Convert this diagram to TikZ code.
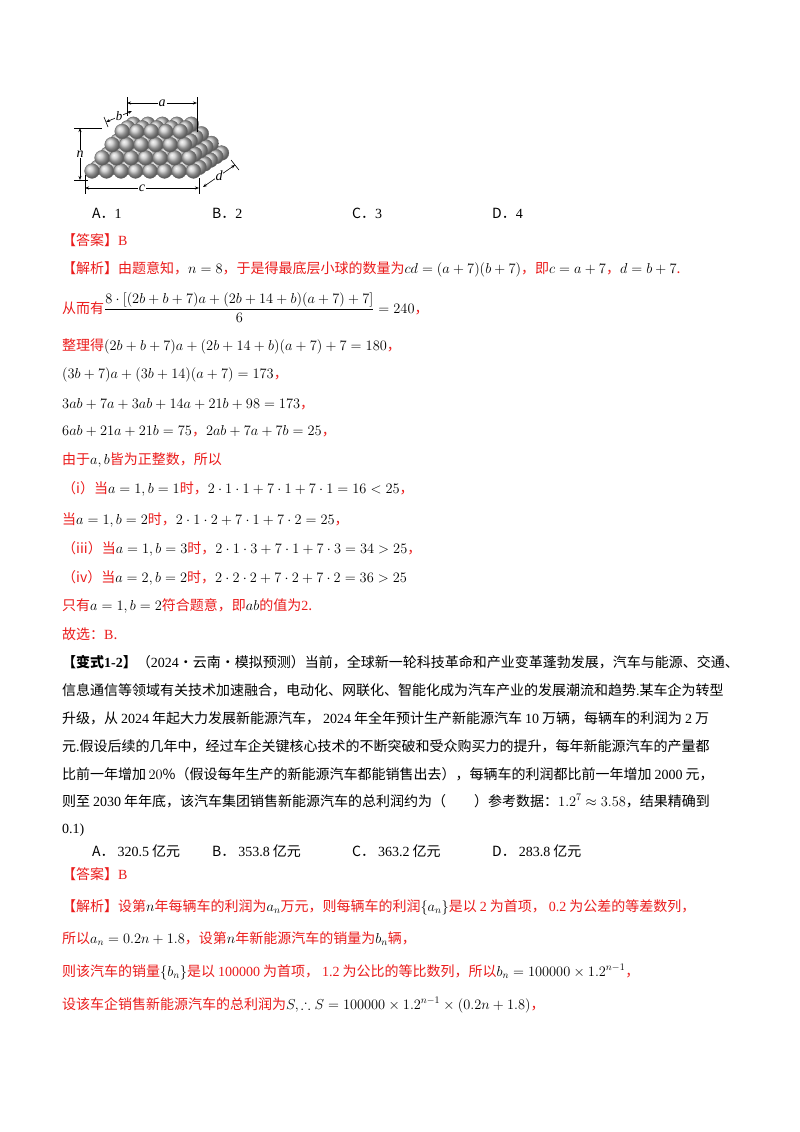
\documentclass[tikz,border=0pt]{standalone}
\usepackage{fontspec}
\usepackage{amsmath,amssymb}
\setmainfont{Noto Sans CJK SC}
\newfontfamily\tm{Liberation Serif}
\definecolor{red1}{RGB}{235,28,28}
\newcommand{\R}[1]{\textcolor{red1}{#1}}
\newcommand{\nm}[1]{\hspace{3pt}{\tm #1}\hspace{3pt}}
\usetikzlibrary{arrows.meta}
\begin{document}
\begin{tikzpicture}[x=1pt,y=-1pt,
  ln/.style={anchor=base west,inner sep=0pt,font=\fontsize{14}{16}\selectfont},
  dim/.style={line width=0.6pt},
  dimarr/.style={line width=0.6pt,{Stealth[length=4pt]}-{Stealth[length=4pt]}}]
\useasboundingbox (0,0) rectangle (800,1132);
\fill[white] (0,0) rectangle (800,1132);
% ---- ball pyramid ----
\foreach \k/\nx/\ny in {0/8/6,1/7/5,2/6/4,3/5/3}{
  \foreach \jj in {1,...,\ny}{
    \pgfmathtruncatemacro{\j}{\ny-\jj}
    \foreach \i in {1,...,\nx}{
      \pgfmathsetmacro{\bx}{92+(\i-1)*14.5+\j*5.6+\k*(7.25+2.8)}
      \pgfmathsetmacro{\by}{171-\j*3.6-\k*13.2}
      \shade[ball color=gray!45,draw=black!60,line width=0.3pt] (\bx,\by) circle (7.4);
    }
  }
}
% dimension lines
\coordinate (aL) at (127,103); \coordinate (aR) at (197,103);
\draw[dim] (127,97) -- (127,116); \draw[dim] (197,97) -- (197,132);
\draw[dimarr] (aL) -- node[fill=white,inner sep=1pt,font=\itshape\tm\fontsize{14}{14}\selectfont]{a} (aR);
\coordinate (cL) at (85,188); \coordinate (cR) at (199,188);
\draw[dim] (85,175) -- (85,194); \draw[dim] (199,178) -- (199,194);
\draw[dimarr] (cL) -- node[fill=white,inner sep=1pt,font=\itshape\tm\fontsize{14}{14}\selectfont]{c} (cR);
\coordinate (nT) at (80,128); \coordinate (nB) at (80,180);
\draw[dim] (74,128) -- (102,128); \draw[dim] (74,180) -- (88,180);
\draw[dimarr] (nT) -- node[fill=white,inner sep=1pt,font=\itshape\tm\fontsize{14}{14}\selectfont]{n} (nB);
\coordinate (bA) at (106,122); \coordinate (bB) at (132,111);
\draw[dim] (104,117) -- (108,127);
\draw[dimarr] (bA) -- node[fill=white,inner sep=0.5pt,font=\itshape\tm\fontsize{13}{13}\selectfont]{b} (bB);
\coordinate (dA) at (203,187); \coordinate (dB) at (235,165);
\draw[dim] (231,160) -- (239,170);
\draw[dimarr] (dA) -- node[fill=white,inner sep=0.5pt,font=\itshape\tm\fontsize{14}{14}\selectfont]{d} (dB);
% ---- text ----
\node[ln] (o1) at (92,218) {A．\tm 1};
\node[ln] (o2) at (212,218) {B．\tm 2};
\node[ln] (o3) at (352,218) {C．\tm 3};
\node[ln] (o4) at (492,218) {D．\tm 4};
\node[ln] (l1) at (62,245) {\R{【答案】\tm B}};
\node[ln] (l2) at (62,273) {\R{【解析】由题意知，}$n=8$\R{，于是得最底层小球的数量为}$cd=(a+7)(b+7)$\R{，即}$c=a+7$\R{，}$d=b+7$\R{.}};
\node[ln] (l3) at (62,313) {\R{从而有}$\dfrac{8\cdot[(2b+b+7)a+(2b+14+b)(a+7)+7]}{6}=240$\R{，}};
\node[ln] (l4) at (62,350) {\R{整理得}$(2b+b+7)a+(2b+14+b)(a+7)+7=180$\R{，}};
\node[ln] (l5) at (62,378) {$(3b+7)a+(3b+14)(a+7)=173$\R{，}};
\node[ln] (l6) at (62,408) {$3ab+7a+3ab+14a+21b+98=173$\R{，}};
\node[ln] (l7) at (62,435) {$6ab+21a+21b=75$\R{，}$2ab+7a+7b=25$\R{，}};
\node[ln] (l8) at (62,464) {\R{由于}$a,b$\R{皆为正整数，所以}};
\node[ln] (l9) at (62,493) {\R{（i）当}$a=1,b=1$\R{时，}$2\cdot1\cdot1+7\cdot1+7\cdot1=16<25$\R{，}};
\node[ln] (l10) at (62,524) {\R{当}$a=1,b=2$\R{时，}$2\cdot1\cdot2+7\cdot1+7\cdot2=25$\R{，}};
\node[ln] (l11) at (62,553) {\R{（iii）当}$a=1,b=3$\R{时，}$2\cdot1\cdot3+7\cdot1+7\cdot3=34>25$\R{，}};
\node[ln] (l12) at (62,582) {\R{（iv）当}$a=2,b=2$\R{时，}$2\cdot2\cdot2+7\cdot2+7\cdot2=36>25$};
\node[ln] (l13) at (62,610) {\R{只有}$a=1,b=2$\R{符合题意，即}$ab$\R{的值为{\tm 2}.}};
\node[ln] (l14) at (62,639) {\R{故选：{\tm B}.}};
\node[ln] (m1) at (62,667) {\textbf{【变式{\tm 1-2}】}（{\tm 2024}·云南·模拟预测）当前，全球新一轮科技革命和产业变革蓬勃发展，汽车与能源、交通、};
\node[ln] (m2) at (62,695) {信息通信等领域有关技术加速融合，电动化、网联化、智能化成为汽车产业的发展潮流和趋势{\tm .}某车企为转型};
\node[ln] (m3) at (62,723) {升级，从\nm{2024}年起大力发展新能源汽车，\nm{2024}年全年预计生产新能源汽车\nm{10}万辆，每辆车的利润为\nm{2}万};
\node[ln] (m4) at (62,751) {元{\tm .}假设后续的几年中，经过车企关键核心技术的不断突破和受众购买力的提升，每年新能源汽车的产量都};
\node[ln] (m5) at (62,779) {比前一年增加\,$20\%$（假设每年生产的新能源汽车都能销售出去），每辆车的利润都比前一年增加\nm{2000}元，};
\node[ln] (m6) at (62,806) {则至\nm{2030}年年底，该汽车集团销售新能源汽车的总利润约为（\quad\quad）参考数据：$1.2^7\approx3.58$，结果精确到};
\node[ln] (m7) at (62,833) {\tm 0.1)};
\node[ln] (p1) at (92,856) {A．\nm{320.5}亿元};
\node[ln] (p2) at (212,856) {B．\nm{353.8}亿元};
\node[ln] (p3) at (352,856) {C．\nm{363.2}亿元};
\node[ln] (p4) at (492,856) {D．\nm{283.8}亿元};
\node[ln] (s1) at (62,879) {\R{【答案】\tm B}};
\node[ln] (s2) at (62,911) {\R{【解析】设第}$n$\R{年每辆车的利润为}$a_n$\R{万元，则每辆车的利润}$\left\{a_n\right\}$\R{是以\nm{2}为首项，\nm{0.2}为公差的等差数列，}};
\node[ln] (s3) at (62,943) {\R{所以}$a_n=0.2n+1.8$\R{，设第}$n$\R{年新能源汽车的销量为}$b_n$\R{辆，}};
\node[ln] (s4) at (62,976) {\R{则该汽车的销量}$\left\{b_n\right\}$\R{是以\nm{100000}为首项，\nm{1.2}为公比的等比数列，所以}$b_n=100000\times1.2^{n-1}$\R{，}};
\node[ln] (s5) at (62,1009) {\R{设该车企销售新能源汽车的总利润为}$S,\therefore S=100000\times1.2^{n-1}\times\left(0.2n+1.8\right)$\R{，}};
\end{tikzpicture}
\end{document}
